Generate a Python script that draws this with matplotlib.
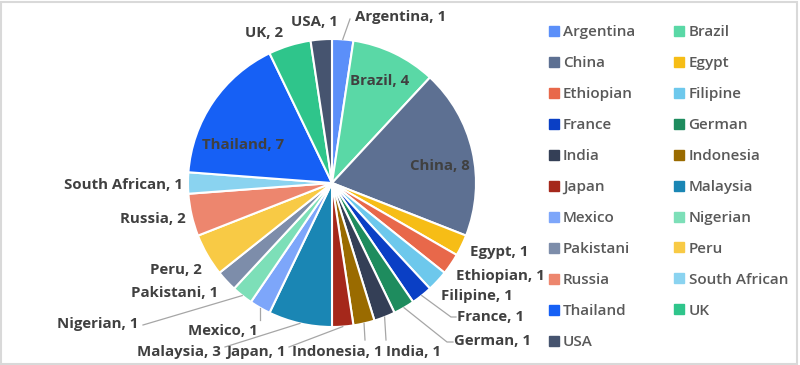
import matplotlib
matplotlib.use("Agg")
import matplotlib.pyplot as plt
import numpy as np
from matplotlib.lines import Line2D
from matplotlib.patches import Rectangle

countries = ["Argentina", "Brazil", "China", "Egypt", "Ethiopian", "Filipine",
             "France", "German", "India", "Indonesia", "Japan", "Malaysia",
             "Mexico", "Nigerian", "Pakistani", "Peru", "Russia",
             "South African", "Thailand", "UK", "USA"]
counts = [1, 4, 8, 1, 1, 1, 1, 1, 1, 1, 1, 3, 1, 1, 1, 2, 2, 1, 7, 2, 1]
colors = ["#5B8FF9", "#5AD8A6", "#5D7092", "#F6BD16", "#E8684A", "#6DC8EC",
          "#0A3FC5", "#1E8C5E", "#343F56", "#9A6B00", "#A5281B", "#1A86B4",
          "#7DA6FA", "#7DDFB8", "#7D8DAA", "#F8CA45", "#ED866E", "#8AD3F0",
          "#1660F5", "#2FC58B", "#46546F"]

W, H = 800, 365
CX, CY, R = 332, 183, 144


def px(x, y):
    # pixel position -> pie data units
    return (x - CX) / R, (CY - y) / R


# label placement in pixels: (x, y, ha, leader bend points)
label_pos = {
    "Argentina": (355, 17, "left", [(350, 19)]),
    "Brazil": (380, 81, "center", None),
    "China": (440, 166, "center", None),
    "Egypt": (470, 252, "left", None),
    "Ethiopian": (456, 276, "left", None),
    "Filipine": (441, 296, "left", None),
    "France": (457, 317, "left", [(451, 317), (456, 317)]),
    "German": (454, 341, "left", [(447, 342), (453, 342)]),
    "India": (386, 352, "left", [(386, 340)]),
    "Indonesia": (292, 352, "left", [(365, 340)]),
    "Japan": (226, 352, "left", [(289, 347)]),
    "Malaysia": (221, 352, "right", [(225, 347)]),
    "Mexico": (188, 331, "left", [(260, 320)]),
    "Nigerian": (138, 324, "right", [(143, 325)]),
    "Pakistani": (218, 293, "right", None),
    "Peru": (202, 270, "right", None),
    "Russia": (186, 219, "right", None),
    "South African": (183, 185, "right", None),
    "Thailand": (243, 145, "center", None),
    "UK": (264, 33, "center", None),
    "USA": (314, 22, "center", None),
}

plt.rcParams['font.family'] = ['Open Sans', 'DejaVu Sans']

fig = plt.figure(figsize=(W / 100, H / 100), dpi=100)
ax = fig.add_axes([0, 0, 1, 1])

wedges, _ = ax.pie(counts, colors=colors, startangle=90, counterclock=False,
                   radius=1, center=(0, 0), frame=True,
                   wedgeprops=dict(edgecolor="white", linewidth=1.5))
ax.set_xlim(-CX / R, (W - CX) / R)
ax.set_ylim((CY - H) / R, CY / R)
ax.axis("off")

text_color = "#404040"
for w, name, n in zip(wedges, countries, counts):
    x, y, ha, bends = label_pos[name]
    tx, ty = px(x, y)
    ax.text(tx, ty, f"{name}, {n}", ha=ha, va="center", fontsize=10.8,
            fontweight="bold", color=text_color)
    if bends:
        mid = np.deg2rad((w.theta1 + w.theta2) / 2)
        pts = [(np.cos(mid), np.sin(mid))] + [px(bx, by) for bx, by in bends]
        xs, ys = zip(*pts)
        ax.plot(xs, ys, color="#a6a6a6", lw=0.9)

# legend filled row by row like the original
handles = [Line2D([], [], marker="s", ls="", markersize=6.5, color=c) for c in colors]
order = list(range(0, len(countries), 2)) + list(range(1, len(countries), 2))
leg = fig.legend([handles[i] for i in order], [countries[i] for i in order],
                 ncol=2, loc="upper left", bbox_to_anchor=(543 / W, 1 - 19 / H),
                 frameon=False, fontsize=11, handlelength=0.6,
                 handletextpad=0.3, columnspacing=2.6, labelspacing=1.11,
                 borderaxespad=0)
for t in leg.get_texts():
    t.set_color("#595959")
    t.set_fontweight("semibold")

fig.add_artist(Rectangle((0.5 / W, 1.5 / H), 796 / W, 362 / H,
                         transform=fig.transFigure, fill=False,
                         edgecolor="#d9d9d9", lw=1.5))

fig.savefig("out.png", dpi=100)
